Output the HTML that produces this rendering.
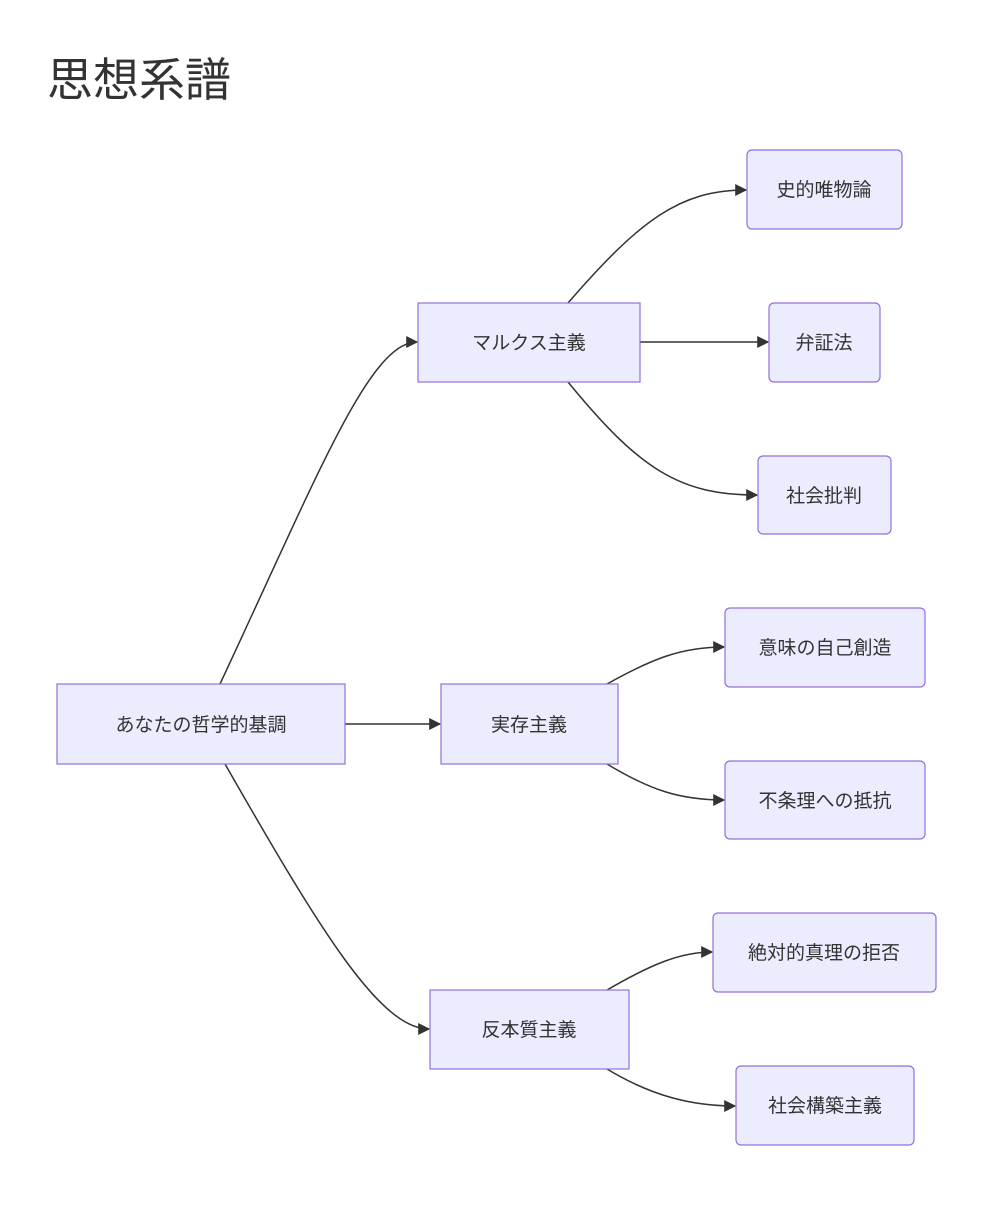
<!DOCTYPE html>
<html><head><meta charset="utf-8"><style>
html,body{margin:0;padding:0;background:#fff;}
body{width:993px;height:1200px;overflow:hidden;font-family:"Liberation Sans","Noto Sans CJK JP",sans-serif;}
</style></head><body>
<svg width="993" height="1200" xmlns="http://www.w3.org/2000/svg" font-family="Liberation Sans, Noto Sans CJK JP, sans-serif">
<defs><marker id="a" viewBox="0 0 10 10" refX="9" refY="5" markerWidth="8" markerHeight="8" orient="auto"><path d="M0,0L10,5L0,10z" fill="#333"/></marker></defs>
<text x="47" y="96" font-size="46" fill="#333">思想系譜</text>
<g fill="none" stroke="#333" stroke-width="1.5" marker-end="url(#a)">
<path d="M220,684 C320,470 370,342 417,342"/>
<path d="M345,724 L440,724"/>
<path d="M225,764 C320,930 380,1029 429,1029"/>
<path d="M568,303 C640,220 680,190 746,190"/>
<path d="M640,342 L768,342"/>
<path d="M568,382 C640,470 680,495 757,495"/>
<path d="M607,684 C650,660 680,647 724,647"/>
<path d="M607,764 C650,790 680,800 724,800"/>
<path d="M607,990 C650,965 680,952 712,952"/>
<path d="M607,1069 C650,1095 690,1106 735,1106"/>
</g>
<g fill="#ECECFF" stroke="#9370DB" stroke-width="1.2">
<rect x="57" y="684" width="288" height="80"/>
<rect x="418" y="303" width="222" height="79"/>
<rect x="441" y="684" width="177" height="80"/>
<rect x="430" y="990" width="199" height="79"/>
<rect x="747" y="150" width="155" height="79" rx="5"/>
<rect x="769" y="303" width="111" height="79" rx="5"/>
<rect x="758" y="456" width="133" height="78" rx="5"/>
<rect x="725" y="608" width="200" height="79" rx="5"/>
<rect x="725" y="761" width="200" height="78" rx="5"/>
<rect x="713" y="913" width="223" height="79" rx="5"/>
<rect x="736" y="1066" width="178" height="79" rx="5"/>
</g>
<g font-size="19" fill="#333" text-anchor="middle">
<text x="201" y="731">あなたの哲学的基調</text>
<text x="529" y="349">マルクス主義</text>
<text x="529" y="731">実存主義</text>
<text x="529" y="1036">反本質主義</text>
<text x="824" y="196">史的唯物論</text>
<text x="824" y="349">弁証法</text>
<text x="824" y="502">社会批判</text>
<text x="825" y="654">意味の自己創造</text>
<text x="825" y="807">不条理への抵抗</text>
<text x="824" y="959">絶対的真理の拒否</text>
<text x="825" y="1112">社会構築主義</text>
</g>
</svg>
</body></html>
